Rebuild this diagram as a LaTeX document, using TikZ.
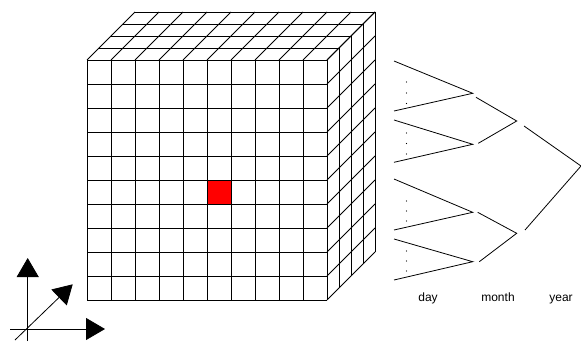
\documentclass[tikz,border=0pt]{standalone}
\usepackage{fontspec}
\setmainfont{Liberation Sans}
\usetikzlibrary{arrows.meta}
\begin{document}
\begin{tikzpicture}[x=1pt,y=-1pt,
  grid/.style={line width=0.8pt,black},
  tree/.style={line width=0.8pt,black},
  axis/.style={line width=0.8pt,-{Triangle[length=19pt,width=22pt]}},
  lbl/.style={font=\fontsize{12}{14}\selectfont,anchor=base,inner sep=0pt},
  dotmark/.style={fill=black}]
\useasboundingbox (0,0) rectangle (581,345);
% red cell
\fill[red] (207,180) rectangle (231,204);
% front face
\foreach \i in {0,...,10} {
  \draw[grid] (87+24*\i,60) -- (87+24*\i,300);
  \draw[grid] (87,60+24*\i) -- (327,60+24*\i);
}
% top face
\foreach \k in {1,...,4} \draw[grid] (87+12*\k,60-12*\k) -- (327+12*\k,60-12*\k);
\foreach \i in {0,...,10} \draw[grid] (87+24*\i,60) -- (135+24*\i,12);
% right face
\foreach \k in {1,...,4} \draw[grid] (327+12*\k,60-12*\k) -- (327+12*\k,300-12*\k);
\foreach \j in {0,...,10} \draw[grid] (327,60+24*\j) -- (375,12+24*\j);
% tree coordinates
\coordinate (d1) at (472.7,93.3);
\coordinate (d2) at (472.7,144.3);
\coordinate (d3) at (472.7,212.3);
\coordinate (d4) at (472.7,261.7);
\coordinate (m1) at (516.7,121);
\coordinate (m2) at (516.7,233.3);
\coordinate (y1) at (581,166);
% day level
\draw[tree] (394,61) -- (d1) -- (394,111);
\draw[tree] (394,120) -- (d2) -- (394,162.3);
\draw[tree] (394,179) -- (d3) -- (394,230);
\draw[tree] (394,239) -- (d4) -- (394,280);
\foreach \y in {82,93,103.5,133,143.5,154,201,211,221,251,261,271}
  \fill[dotmark] (406.5,\y) circle (0.6pt);
% month level
\draw[tree] (476,97.3) -- (m1) -- (478.3,143.3);
\draw[tree] (477.7,212.3) -- (m2) -- (479.3,261.7);
% year level
\draw[tree] (524,126) -- (y1) -- (525,230);
% labels
\node[lbl] (day) at (428,301) {day};
\node[lbl] (month) at (498,301) {month};
\node[lbl] (year) at (561,301) {year};
% axes
\coordinate (o1) at (27.7,341);
\coordinate (o2) at (10,329);
\coordinate (o3) at (15,340);
\coordinate (t1) at (27.7,258);
\coordinate (t2) at (105,329);
\coordinate (t3) at (72.7,284.3);
\draw[axis] (o1) -- (t1);
\draw[axis] (o2) -- (t2);
\draw[axis] (o3) -- (t3);
\end{tikzpicture}
\end{document}
